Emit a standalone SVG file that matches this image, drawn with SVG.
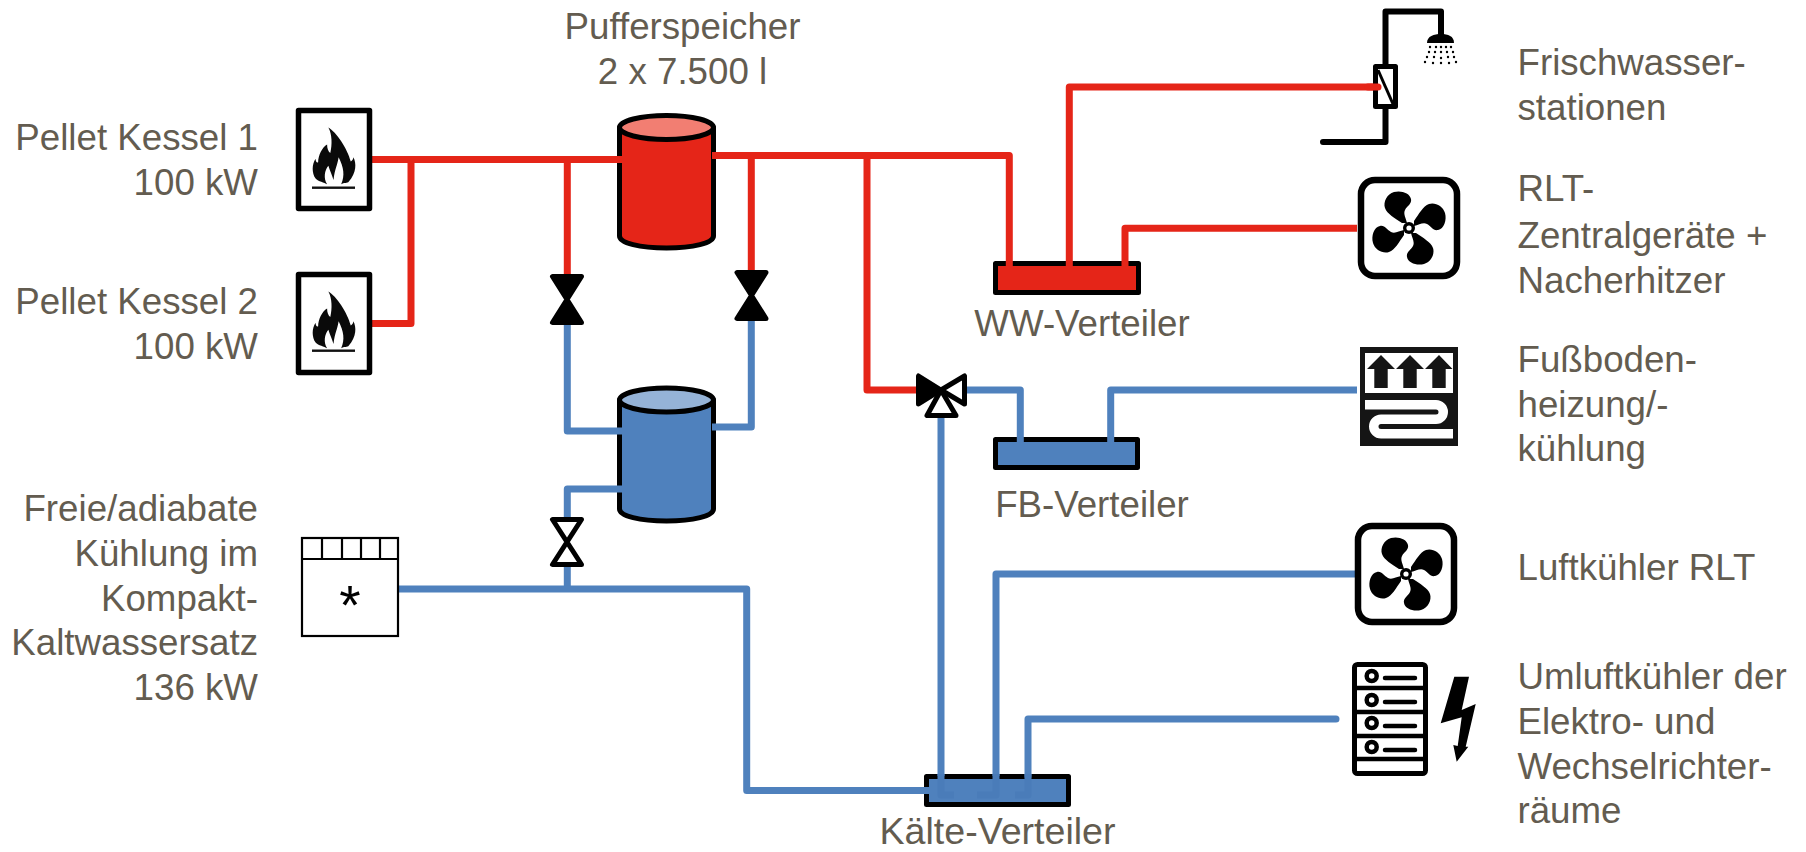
<svg xmlns="http://www.w3.org/2000/svg" width="1806" height="852" viewBox="0 0 1806 852">
<style>
text{font-family:"Liberation Sans",Arial,sans-serif;font-size:36.7px;fill:#635c50}
.e{text-anchor:end}.m{text-anchor:middle}
.r,.b{fill:none;stroke-width:7;stroke-linejoin:round}
.r{stroke:#e52518}.b{stroke:#4f81bd}
.k{fill:none;stroke:#000;stroke-width:6;stroke-linejoin:round;stroke-linecap:round}
.box{fill:#fff;stroke:#000;stroke-width:5.5;stroke-linejoin:round}
.tk{stroke:#000;stroke-width:5;stroke-linejoin:round}
.vf{fill:#000;stroke:#000;stroke-width:5;stroke-linejoin:round}
.vo{fill:#fff;stroke:#000;stroke-width:5;stroke-linejoin:round}
.thin{fill:none;stroke:#000;stroke-width:2.2}
</style>
<defs>
<g id="flame">
<path fill="#0a0a0a" d="M-8 -50C4 -44 22 -20 27 -2C30 -4 31 -6 31 -8C36 0 36 14 24 26C22 29 16 27 12 30C18 18 16 6 8 -8C6 4 2 8 0 24C-2 18 -6 10 -8 4C-14 10 -16 22 -10 30C-14 28 -24 26 -28 22C-34 14 -34 2 -28 -6C-28 -2 -26 0 -24 -1C-24 -10 -18 -22 -10 -26C-10 -20 -8 -16 -5 -14C-2 -26 -2 -40 -8 -50Z"/>
</g>
<path id="blade" d="M-2 -5C-3 -10 -6 -14 -4 -18C-2 -22 3 -24 2 -29C1 -35 -8 -38 -15 -36C-22 -34 -26 -26 -24 -20C-22 -14 -14 -10 -7 -5Z"/>
<g id="fan">
<rect x="-48" y="-48" width="96" height="96" rx="14" fill="#fff" stroke="#000" stroke-width="6.5"/>
<use href="#blade"/>
<use href="#blade" transform="rotate(90)"/>
<use href="#blade" transform="rotate(180)"/>
<use href="#blade" transform="rotate(270)"/>
<circle r="6" fill="#000"/><circle r="2.6" fill="#fff"/>
</g>
</defs>

<g id="puffer-warm">
<path class="tk" fill="#e52518" d="M619.500 127.500V236C619.500 243 640 248 666.500 248S713.500 243 713.500 236V127.500Z"/>
<ellipse class="tk" cx="666.500" cy="127.500" rx="47" ry="12" fill="#f27e72"/>
<text class="m" x="682.500" y="39">Pufferspeicher</text><text class="m" x="682.500" y="84">2 x 7.500 l</text>
</g>
<g id="puffer-kalt">
<path class="tk" fill="#4f81bd" d="M619.500 400V509C619.500 516 640 521 666.500 521S713.500 516 713.500 509V400Z"/>
<ellipse class="tk" cx="666.500" cy="400" rx="47" ry="12" fill="#95b3d7"/>
</g>
<g id="ww-verteiler"><rect class="tk" x="995.500" y="263.500" width="143" height="29" fill="#e52518"/><text class="m" x="1082" y="336">WW-Verteiler</text></g>
<g id="fb-verteiler"><rect class="tk" x="995.500" y="439.500" width="142" height="28" fill="#4f81bd"/><text class="m" x="1092" y="517">FB-Verteiler</text></g>
<g id="kaelte-verteiler"><rect class="tk" x="926.500" y="776.500" width="142" height="28" fill="#4f81bd"/><text class="m" x="997.500" y="844" style="font-size:37.600px">Kälte-Verteiler</text></g>

<g id="connectors">
<path class="r" d="M372 159.500H622M411 159.500V323.500H372M567.300 159.500V274"/>
<path class="r" d="M712 155.500H1009.300V266M751.300 155.500V270M867 155.500V390H918"/>
<path class="r" d="M1069.300 266V87H1378"/>
<path class="r" d="M1125 266V228.300H1357"/>
<path class="b" d="M567.300 325V431H622"/>
<path class="b" d="M751.300 321V427H712"/>
<path class="b" d="M622 489H567.300V517"/>
<path class="b" d="M567.300 567V589"/>
<path class="b" d="M399 589H746.700V790.500H929"/>
<path class="b" d="M965 390H1020.300V442"/>
<path class="b" d="M1110.700 442V390H1357"/>
<path class="b" d="M941 416V776"/>
<path class="b" d="M996 776V574H1355"/>
<path class="b" d="M1028 776V719H1336" stroke-linecap="round"/>
<path class="b" style="stroke:#4a7cb9" d="M941 774V795H954M996 774V795H977M1028 774V795H1015"/>
</g>

<g id="kessel1"><rect class="box" x="298.500" y="110.500" width="71" height="98"/><use href="#flame" transform="translate(333.500 163) scale(.64 .71)"/><rect x="312" y="186.500" width="43" height="2.400" fill="#111"/><text class="e" x="258" y="150">Pellet Kessel 1</text><text class="e" x="258" y="195">100 kW</text></g>
<g id="kessel2"><rect class="box" x="298.500" y="274.500" width="71" height="98"/><use href="#flame" transform="translate(333.500 327) scale(.64 .71)"/><rect x="312" y="349.500" width="43" height="2.400" fill="#111"/><text class="e" x="258" y="314">Pellet Kessel 2</text><text class="e" x="258" y="359">100 kW</text></g>

<g id="kaelte-erzeuger">
<rect class="thin" x="302" y="538" width="96" height="98"/>
<path class="thin" d="M302 559H398M322 538V559M342 538V559M361 538V559M380 538V559"/>
<text class="m" x="350" y="624" style="font-size:55px;fill:#000">*</text>
<text class="e" x="258" y="521">Freie/adiabate</text><text class="e" x="258" y="566">Kühlung im</text><text class="e" x="258" y="610.500">Kompakt-</text><text class="e" x="258" y="655">Kaltwassersatz</text><text class="e" x="258" y="700">136 kW</text>
</g>

<g id="ventil1"><path class="vf" d="M552.500 276.500H581.500L552.500 322.500H581.500Z"/></g>
<g id="ventil2"><path class="vf" d="M737 272.500H766L737 318.500H766Z"/></g>
<g id="ventil3"><path class="vo" d="M552.500 519.500H581.500L552.500 564.500H581.500Z"/></g>
<g id="mischer">
<path class="vo" d="M941 390L964.500 376V404Z"/>
<path class="vo" d="M941 390L927 415.500H956Z"/>
<path class="vf" d="M941 390L918.500 376V404Z"/>
</g>

<g id="frischwasser">
<path class="k" d="M1385.500 64V11.500H1441V36M1385.500 109V142H1323"/>
<path d="M1427 43C1427 36 1434 34 1441 34S1454 36 1454 43Z"/>
<g fill="#000"><circle cx="1430" cy="47" r="1.200"/><circle cx="1436" cy="47" r="1.200"/><circle cx="1441" cy="47" r="1.200"/><circle cx="1446" cy="47" r="1.200"/><circle cx="1451" cy="47" r="1.200"/><circle cx="1429" cy="52" r="1.200"/><circle cx="1435" cy="52" r="1.200"/><circle cx="1441" cy="52" r="1.200"/><circle cx="1447" cy="52" r="1.200"/><circle cx="1453" cy="52" r="1.200"/><circle cx="1427" cy="57" r="1.200"/><circle cx="1434" cy="57" r="1.200"/><circle cx="1441" cy="58" r="1.200"/><circle cx="1448" cy="57" r="1.200"/><circle cx="1454" cy="57" r="1.200"/><circle cx="1425" cy="62" r="1.200"/><circle cx="1433" cy="63" r="1.200"/><circle cx="1441" cy="63" r="1.200"/><circle cx="1449" cy="63" r="1.200"/><circle cx="1456" cy="62" r="1.200"/></g>
<rect x="1375.500" y="66.500" width="20" height="40" fill="#fff" stroke="#000" stroke-width="5" stroke-linejoin="round"/>
<path d="M1378 70L1393 104" stroke="#000" stroke-width="3" fill="none"/>
<path d="M1378 87H1368" stroke="#e52518" stroke-width="7" stroke-linecap="round"/>
<text x="1517.500" y="75">Frischwasser-</text><text x="1517.500" y="120">stationen</text>
</g>
<g id="rlt"><use href="#fan" x="1409" y="228"/><text x="1517.500" y="201">RLT-</text><text x="1517.500" y="247.500">Zentralgeräte +</text><text x="1517.500" y="293">Nacherhitzer</text></g>
<g id="fussboden">
<rect x="1360" y="347" width="98" height="99" fill="#151515"/>
<rect x="1365" y="353" width="88" height="40" fill="#fff"/>
<path d="M1374.300 388V369H1367L1381 355L1395 369H1387.700V388ZM1403.300 388V369H1396L1410 355L1424 369H1416.700V388ZM1432.300 388V369H1425L1439 355L1452.500 369H1445.700V388Z" fill="#151515"/>
<path d="M1365 404.700H1436A7.250 7.250 0 0 1 1436 419.200H1381A7.250 7.250 0 0 0 1381 433.700H1453" fill="none" stroke="#fff" stroke-width="9.500"/>
<text x="1517.500" y="372">Fußboden-</text><text x="1517.500" y="416.500">heizung/-</text><text x="1517.500" y="461">kühlung</text>
</g>
<g id="luftkuehler"><use href="#fan" x="1406" y="574"/><text x="1517.500" y="580">Luftkühler RLT</text></g>
<g id="umluft">
<rect x="1354.500" y="664.500" width="71" height="109" rx="3" fill="#fff" stroke="#000" stroke-width="5"/>
<path d="M1355 688H1425M1355 712H1425M1355 736H1425M1355 759H1425" stroke="#000" stroke-width="4.500" fill="none"/>
<g fill="#fff" stroke="#000" stroke-width="4.500"><circle cx="1371.700" cy="676" r="5"/><circle cx="1371.700" cy="700" r="5"/><circle cx="1371.700" cy="723" r="5"/><circle cx="1371.700" cy="747" r="5"/></g>
<path d="M1385 678H1415M1385 702H1415M1385 726H1415M1385 750H1415" stroke="#000" stroke-width="4.500" stroke-linecap="round" fill="none"/>
<path d="M1454.300 676.700H1469L1461.700 710L1475.700 704L1465.700 746.700H1468.300L1456.700 761.700L1453.300 745L1457.700 746L1461.700 717.300L1440.700 723.300Z" fill="#000"/>
<text x="1517.500" y="689">Umluftkühler der</text><text x="1517.500" y="734">Elektro- und</text><text x="1517.500" y="779">Wechselrichter-</text><text x="1517.500" y="823">räume</text>
</g>
</svg>
